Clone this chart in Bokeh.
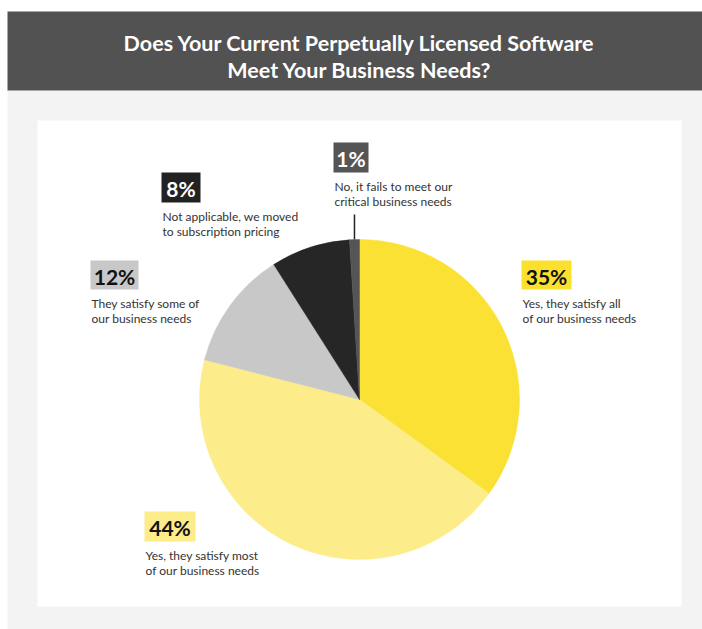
import math
from bokeh.plotting import figure
from bokeh.models import Range1d
from bokeh.core.properties import value
from bokeh.embed import file_html
from bokeh.resources import INLINE

# ---- data ----
categories = [
    "Yes, they satisfy all of our business needs",
    "Yes, they satisfy most of our business needs",
    "They satisfy some of our business needs",
    "Not applicable, we moved to subscription pricing",
    "No, it fails to meet our critical business needs",
]
values = [35, 44, 12, 8, 1]
pct_labels = ["35%", "44%", "12%", "8%", "1%"]
desc_lines = [
    ["Yes, they satisfy all", "of our business needs"],
    ["Yes, they satisfy most", "of our business needs"],
    ["They satisfy some of", "our business needs"],
    ["Not applicable, we moved", "to subscription pricing"],
    ["No, it fails to meet our", "critical business needs"],
]
title_lines = ["Does Your Current Perpetually Licensed Software", "Meet Your Business Needs?"]

# ---- styles / layout ----
colors = ["#FBE134", "#FCEC8A", "#C8C8C8", "#262626", "#555555"]
box_colors = ["#FBE12E", "#FCEC8A", "#C8C8C8", "#222222", "#555555"]
pct_text_colors = ["#111111", "#111111", "#111111", "#FFFFFF", "#FFFFFF"]
# label box (left, top, right, bottom) in page pixels (top-down)
boxes = [
    (521, 260, 571, 289),
    (144, 511, 195, 541),
    (90, 260, 138, 289),
    (161, 172, 200, 202),
    (333, 142, 368, 172),
]
W, H = 702, 629
def Y(v):
    return H - v

cx, cy, R = 359, 399, 160

p = figure(width=W, height=H, x_range=Range1d(0, W), y_range=Range1d(0, H),
           output_backend="svg", toolbar_location=None, min_border=0)
p.axis.visible = False
p.grid.visible = False
p.outline_line_color = None
p.background_fill_color = "#FFFFFF"
p.border_fill_color = "#FFFFFF"

# frame
p.quad(left=[7], right=[W], top=[Y(90)], bottom=[Y(H)], fill_color="#F3F3F3", line_color=None)
p.quad(left=[7], right=[W], top=[Y(11)], bottom=[Y(90)], fill_color="#525252", line_color=None)
p.quad(left=[37], right=[681], top=[Y(120)], bottom=[Y(606)], fill_color="#FFFFFF", line_color=None)

# title
for i, t in enumerate(title_lines):
    p.text(x=[359], y=[Y(42 + 27 * i)], text=[t], text_align="center", text_baseline="middle",
           text_color="#FFFFFF", text_font=value("Lato"), text_font_style="bold",
           text_font_size="21.5px")

# pie
total = sum(values)
starts, ends = [], []
cum = 0
for v in values:
    starts.append(math.pi / 2 - 2 * math.pi * cum / total)
    cum += v
    ends.append(math.pi / 2 - 2 * math.pi * cum / total)
p.wedge(x=[cx] * len(values), y=[Y(cy)] * len(values), radius=R,
        start_angle=starts, end_angle=ends, direction="clock",
        fill_color=colors, line_color=colors, line_width=0.5)

# leader line for smallest slice
mid = (starts[4] + ends[4]) / 2
lx = cx + R * math.cos(mid)
p.segment(x0=[lx], y0=[Y(214)], x1=[lx], y1=[Y(cy) + R * math.sin(mid)], line_color="#222222", line_width=1.5)

# labels
for i in range(len(values)):
    l, t, r, b = boxes[i]
    p.quad(left=[l], right=[r], top=[Y(t)], bottom=[Y(b)], fill_color=box_colors[i], line_color=None)
    p.text(x=[(l + r) / 2], y=[Y((t + b) / 2) - 1], text=[pct_labels[i]], text_align="center",
           text_baseline="middle", text_color=pct_text_colors[i], text_font=value("Lato"),
           text_font_style="bold", text_font_size="21px")
    for j, line in enumerate(desc_lines[i]):
        p.text(x=[l + 1], y=[Y(b + 14 + 14.5 * j)], text=[line], text_align="left",
               text_baseline="middle", text_color="#333333", text_font=value("Lato"),
               text_font_size="12px")

open("out.html", "w").write(file_html(p, INLINE))
